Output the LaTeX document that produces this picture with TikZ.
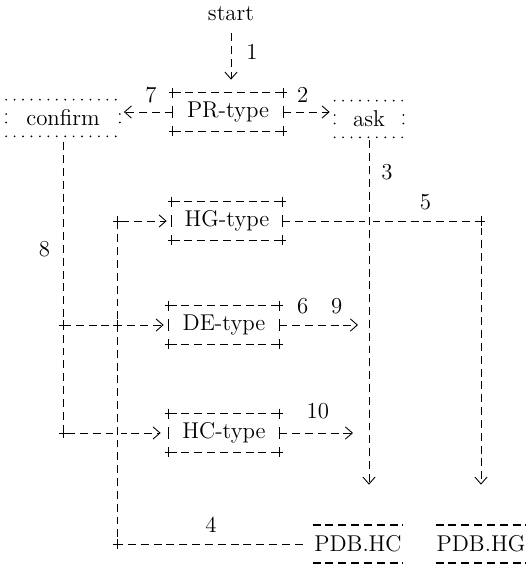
\documentclass[tikz,border=0pt]{standalone}
\usepackage{tikz}
\usetikzlibrary{positioning, arrows.meta}

\begin{document}
\begin{tikzpicture}[x=0.02cm,y=-0.02cm]
  \tikzset{txt/.style={font=\fontsize{13}{15}\selectfont,inner sep=0pt},
    typebox/.style={txt,minimum width=2.2cm,minimum height=0.76cm},
    dotbox/.style={txt,minimum height=0.72cm},
    dbbox/.style={txt,minimum width=1.8cm,minimum height=0.76cm},
    dashline/.style={line width=0.5pt,dash pattern=on 4.5pt off 2.8pt},
    dotline/.style={line width=1.1pt,line cap=round,dash pattern=on 0pt off 4.8pt},
    flow/.style={dashline,-{Straight Barb[length=4pt,width=7pt]}},
    overpass/.style={preaction={draw=white,solid,line width=4pt,-}},
    cross/.pic={\draw[line width=0.5pt] (-4,0) -- (4,0) (0,-5) -- (0,5);}}
  \useasboundingbox (0,0) rectangle (529,564);
  \node[txt] (start) at (231,14) {start};
  \node[typebox] (pr) at (228,112) {PR-type};
  \node[dotbox,minimum width=2.26cm] (confirm) at (63,118) {confirm};
  \node[dotbox,minimum width=1.36cm] (ask) at (369,119) {ask};
  \node[typebox] (hg) at (227,221) {HG-type};
  \node[typebox] (de) at (224,325) {DE-type};
  \node[typebox] (hc) at (224,433) {HC-type};
  \node[dbbox] (pdbhc) at (358,544) {PDB.HC};
  \node[dbbox] (pdbhg) at (481,544) {PDB.HG};
  \coordinate (c4) at (117,544);
  \foreach \b in {pr,hg,de,hc}{
    \draw[dashline] (\b.north west) -- (\b.north east) (\b.south west) -- (\b.south east);
    \draw[line width=0.5pt] ([yshift=-0.12cm]\b.west) -- ([yshift=0.12cm]\b.west)
      ([yshift=-0.12cm]\b.east) -- ([yshift=0.12cm]\b.east);
    \foreach \c in {north west,north east,south west,south east}
      \pic at (\b.\c) {cross};
  }
  \foreach \b in {confirm,ask}
    \draw[dotline] (\b.north west) -- (\b.north east) (\b.south west) -- (\b.south east)
      ([yshift=-0.09cm]\b.west) -- ([yshift=0.09cm]\b.west)
      ([yshift=-0.09cm]\b.east) -- ([yshift=0.09cm]\b.east);
  \foreach \b in {pdbhc,pdbhg}
    \draw[dashline,line width=1.1pt] (\b.north west) -- (\b.north east) (\b.south west) -- (\b.south east);
  \draw[flow,shorten <=0.24cm,shorten >=0.26cm] (start.south) -- node[txt,pos=0.43,right=0.3cm] (n1) {1} (start.south |- pr.north);
  \draw[flow,shorten >=0.08cm] (pr.west) -- node[txt,pos=0.41,above=0.17cm] (n7) {7} (pr.west -| confirm.east);
  \draw[flow,shorten >=0.1cm] (pr.east) -- node[txt,pos=0.38,above=0.18cm] (n2) {2} (pr.east -| ask.west);
  \draw[flow,shorten >=0.8cm] (hg.east) -| node[txt,pos=0.36,above=0.21cm] (n5) {5} (pdbhg.north);
  \pic at (hg.east -| pdbhg.north) {cross};
  \draw[flow,overpass,shorten <=0.06cm,shorten >=0.8cm] (ask.south) -- node[txt,pos=0.09,right=0.24cm] (n3) {3} (ask.south |- pdbhc.north);
  \draw[flow,shorten <=0.12cm,shorten >=0.16cm] (confirm.south) |- node[txt,pos=0.19,left=0.25cm] (n8) {8} (hc.west);
  \draw[flow,shorten >=0.1cm] (confirm.south |- de.west) -- (de.west);
  \pic at (confirm.south |- de.west) {cross};
  \pic at (confirm.south |- hc.west) {cross};
  \draw[flow,overpass,shorten <=0.2cm,shorten >=0.1cm] (pdbhc.west) -- node[txt,pos=0.52,above=0.23cm] (n4) {4} (c4) |- (hg.west);
  \pic at (c4) {cross};
  \pic at (c4 |- hg.west) {cross};
  \pic at (c4 |- de.west) {cross};
  \draw[flow,shorten >=0.22cm] (de.east) -- node[txt,pos=0.26,above=0.21cm] (n6) {6} node[txt,pos=0.64,above=0.21cm] (n9) {9} (de.east -| ask.south);
  \draw[flow,shorten >=0.32cm] (hc.east) -- node[txt,pos=0.43,above=0.27cm] (n10) {10} (hc.east -| ask.south);
\end{tikzpicture}
\end{document}
